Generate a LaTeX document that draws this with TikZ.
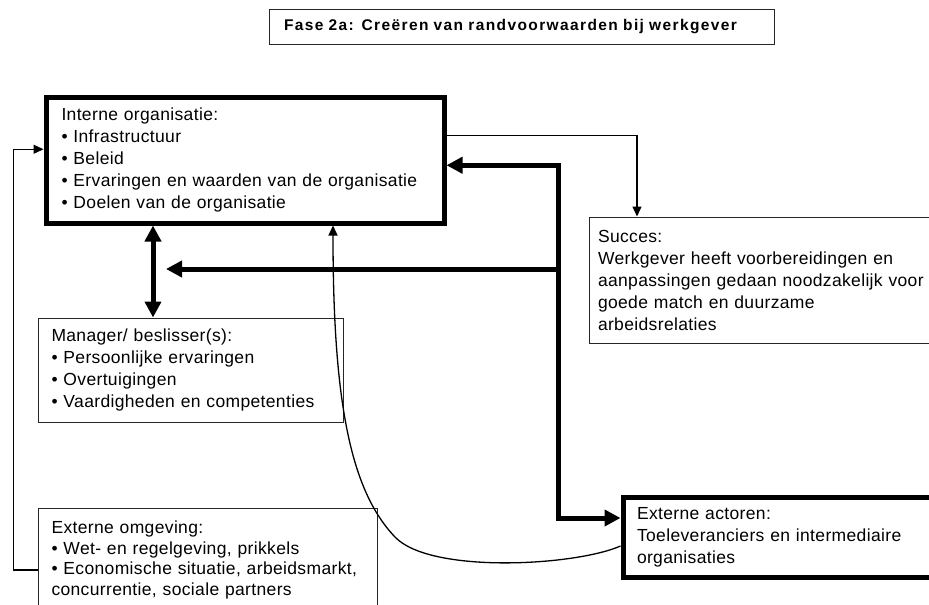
\documentclass[tikz,border=0pt]{standalone}
\usepackage{fontspec}
\setmainfont{Liberation Sans}
\newfontfamily\boxfont[LetterSpace=2]{Liberation Sans}
\newfontfamily\titlefont[LetterSpace=9]{Liberation Sans}
\usepackage{tikz}
\usetikzlibrary{arrows.meta,calc}
\tikzset{
  box/.style={draw=black!85, line width=1pt, rectangle, align=left, inner xsep=#1, inner ysep=0pt,
    font=\boxfont\fontsize{17.5}{22}\selectfont},
  box/.default=14pt,
  heavybox/.style={box=#1, draw=black, line width=5pt},
  heavybox/.default=14pt,
  light/.style={draw=black, line width=1.3pt, -{Triangle[length=10pt,width=9pt]}},
  heavy/.style={draw=black, line width=5pt, -{Triangle[length=16pt,width=16pt]}},
  heavy both/.style={heavy, {Triangle[length=16pt,width=16pt]}-{Triangle[length=16pt,width=16pt]}},
}

\begin{document}
\begin{tikzpicture}[x=1pt, y=-1pt]
  \useasboundingbox (0,0) rectangle (929,605);
  \clip (0,0) rectangle (929,605);
  \node[box=15pt, text width=475pt, minimum width=505pt, minimum height=35pt,
    font=\titlefont\bfseries\fontsize{15.5}{18}\selectfont] (title) at (521.5,27)
    {Fase 2a: Creëren van randvoorwaarden bij werkgever};
  \node[heavybox=15.5pt, text width=367pt, minimum width=398pt, minimum height=125.5pt] (intern) at (245,160.25)
    {Interne organisatie:\\• Infrastructuur\\• Beleid\\• Ervaringen en waarden van de organisatie\\• Doelen van de organisatie};
  \node[box=13.5pt, text width=278pt, minimum width=305pt, minimum height=104pt] (manager) at (190.5,370)
    {Manager/ beslisser(s):\\• Persoonlijke ervaringen\\• Overtuigingen\\• Vaardigheden en competenties};
  \node[box=13.5pt, text width=312pt, minimum width=339pt, minimum height=104pt,
    font=\boxfont\fontsize{17.5}{20.5}\selectfont] (omgeving) at (207.5,560)
    {Externe omgeving:\\• Wet- en regelgeving, prikkels\\• Economische situatie, arbeidsmarkt,\\concurrentie, sociale partners};
  \node[box=9pt, text width=338pt, minimum width=356pt, minimum height=126pt] (succes) at (767,280)
    {Succes:\\Werkgever heeft voorbereidingen en\\aanpassingen gedaan noodzakelijk voor\\goede match en duurzame\\arbeidsrelaties};
  \node[heavybox=14pt, text width=294pt, minimum width=322pt, minimum height=79.6pt] (actoren) at (784,537.5)
    {Externe actoren:\\Toeleveranciers en intermediaire\\organisaties};

  \coordinate (axis) at (153,0);
  \coordinate (hub) at (558,269);
  \coordinate (tip) at (166,269);
  \coordinate (drop) at (637,0);
  \coordinate (rise) at (333,0);

  \draw[light] ([yshift=-10pt]omgeving.west) -- ++(-24,0) |- ([yshift=11pt]intern.west);
  \draw[heavy both] (intern.south -| axis) -- (manager.north -| axis);
  \draw[heavy] (hub) |- ([yshift=-5pt]intern.east);
  \draw[heavy] (hub) -- (tip);
  \draw[heavy] (hub) |- ([yshift=19.5pt]actoren.west);
  \draw[light] ([yshift=25pt]intern.east) -| (drop |- succes.north);
  % curve from the external actors back up to the organisation
  \draw[light] ([yshift=-8.5pt]actoren.west) .. controls (575,566) and (430,574) .. (395,537)
    .. controls (350,490) and (333,400) .. (intern.south -| rise);
\end{tikzpicture}
\end{document}
